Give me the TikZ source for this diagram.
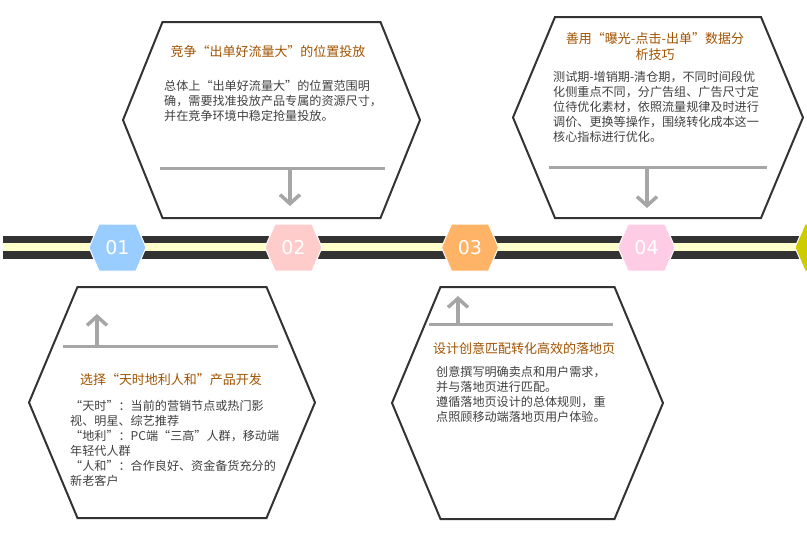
\documentclass[tikz,border=0pt]{standalone}
\usepackage{fontspec}
\usepackage{tikz}
\usetikzlibrary{arrows.meta, positioning}
\newfontfamily\cjkfont{Noto Sans CJK SC}
\newfontfamily\numfont{DejaVu Sans}
\definecolor{cDark}{RGB}{51,51,51}
\definecolor{cCream}{RGB}{255,255,204}
\definecolor{cGuide}{RGB}{166,166,166}
\definecolor{cTitle}{RGB}{160,82,0}
\definecolor{cText}{RGB}{64,64,64}
\definecolor{cBlue}{RGB}{153,204,255}
\definecolor{cPink}{RGB}{255,204,204}
\definecolor{cOrange}{RGB}{255,179,102}
\definecolor{cRose}{RGB}{255,204,230}
\definecolor{cOlive}{RGB}{204,204,0}
\tikzset{
	hexframe/.style  ={draw=cDark, line width=2pt, line join=miter},
	badge/.style     ={draw=white, line width=1pt},
	badgetxt/.style  ={text=white, font=\numfont\fontsize{19}{20}\selectfont, inner sep=0pt},
	boxtitle/.style  ={text=cTitle, font=\cjkfont\fontsize{13}{16}\selectfont, align=center, inner sep=0pt},
	boxbody/.style   ={text=cText, font=\cjkfont\fontsize{12.1}{15}\selectfont, align=left, inner sep=0pt, anchor=north west},
	guide/.style     ={draw=cGuide, line width=3pt},
	guidearrow/.style={draw=cGuide, line width=3.5pt, -{Straight Barb[length=9pt, width=20pt]}},
}
\begin{document}
\begin{tikzpicture}[x=1pt, y=-1pt]
	\useasboundingbox (0,0) rectangle (807,550);
	\clip (0,0) rectangle (807,550);
	% timeline band
	\fill[cDark] (3,236) rectangle (807,259);
	\fill[cCream] (3,243) rectangle (807,251);
	% step badges
	\foreach \i/\x/\c in {1/117.5/cBlue, 2/293.5/cPink, 3/470/cOrange, 4/646.5/cRose, 5/823.5/cOlive}
		\fill[badge, fill=\c] (\x-28.5,247.5) -- (\x-18.5,224) -- (\x+18.5,224) -- (\x+28.5,247.5) -- (\x+18.5,271) -- (\x-18.5,271) -- cycle;
	\foreach \i/\x in {1/117.5, 2/293.5, 3/470, 4/646.5}
		\node[badgetxt] (n\i) at (\x,247.5) {0\i};
	% text frames
	\foreach \cx/\ty/\by/\hw/\tw in {271.5/22/218/148.5/109, 658/17/218/145/103, 172/287/518/143/94.5, 527.5/287/519/135.5/87}
		\draw[hexframe] (\cx-\tw,\ty) -- (\cx+\tw,\ty) -- (\cx+\hw,{(\ty+\by)/2}) -- (\cx+\tw,\by) -- (\cx-\tw,\by) -- (\cx-\hw,{(\ty+\by)/2}) -- cycle;
	% box 02
	\node[boxtitle] (t2) at (268,52) {竞争“出单好流量大”的位置投放};
	\node[boxbody] (d2) at (164,80) {总体上“出单好流量大”的位置范围明\\确，需要找准投放产品专属的资源尺寸，\\并在竞争环境中稳定抢量投放。};
	% box 04
	\node[boxtitle] (t4) at (655,47) {善用“曝光-点击-出单”数据分\\析技巧};
	\node[boxbody] (d4) at (553,71) {测试期-增销期-清仓期，不同时间段优\\化侧重点不同，分广告组、广告尺寸定\\位待优化素材，依照流量规律及时进行\\调价、更换等操作，围绕转化成本这一\\核心指标进行优化。};
	% box 01
	\node[boxtitle] (t1) at (171,380) {选择“天时地利人和”产品开发};
	\node[boxbody] (d1) at (70,400) {“天时”：当前的营销节点或热门影\\视、明星、综艺推荐\\“地利”：PC端“三高”人群，移动端\\年轻代人群\\“人和”：合作良好、资金备货充分的\\新老客户};
	% box 03
	\node[boxtitle] (t3) at (524,349) {设计创意匹配转化高效的落地页};
	\node[boxbody] (d3) at (436,366) {创意撰写明确卖点和用户需求，\\并与落地页进行匹配。\\遵循落地页设计的总体规则，重\\点照顾移动端落地页用户体验。};
	% guide lines and arrows
	\foreach \i/\xl/\xr/\y/\xa/\ye in {2/160/385/168/290/206, 4/549/767/167/647/208, 1/63/278/346/97/314, 3/429/613/324/458/296} {
		\coordinate (gl\i) at (\xl,\y);
		\coordinate (gr\i) at (\xr,\y);
		\coordinate (ga\i) at (\xa,\y);
		\coordinate (gb\i) at (\xa,\ye);
		\draw[guide] (gl\i) -- (gr\i);
		\draw[guidearrow] (ga\i) -- (gb\i);
	}
\end{tikzpicture}
\end{document}
